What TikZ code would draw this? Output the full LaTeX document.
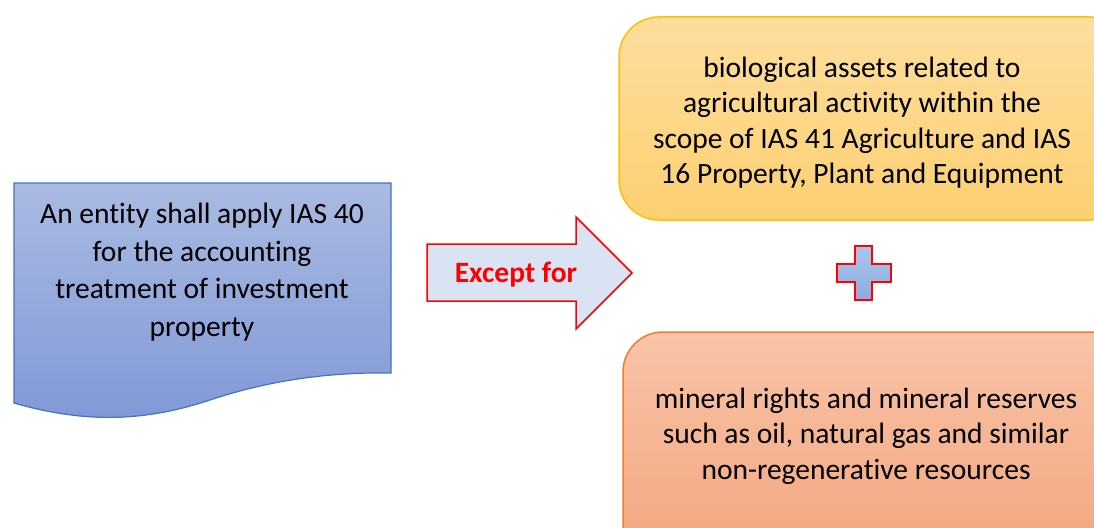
\documentclass[tikz,border=0pt]{standalone}
\usepackage{fontspec}
\setmainfont[RawFeature={-liga;-clig;-calt;-dlig}]{Carlito}
\definecolor{docTop}{HTML}{AABAE2}
\definecolor{docBot}{HTML}{7F98D6}
\definecolor{docLine}{HTML}{4472C4}
\definecolor{arrFill}{HTML}{DAE3F3}
\definecolor{redLine}{HTML}{FF0000}
\definecolor{yTop}{HTML}{FEDE9E}
\definecolor{yBot}{HTML}{FCD072}
\definecolor{yLine}{HTML}{FFC000}
\definecolor{oTop}{HTML}{F8C4A7}
\definecolor{oBot}{HTML}{F4A27C}
\definecolor{oLine}{HTML}{ED7D31}
\definecolor{pTop}{HTML}{AAC5EA}
\definecolor{pBot}{HTML}{8AADE0}
\tikzset{
  bodytext/.style={align=center, font=\fontsize{29.5}{37.5}\selectfont, text=black, inner sep=0pt},
  boxtext/.style={align=center, font=\fontsize{29.5}{35.5}\selectfont, text=black, inner sep=0pt},
  exctext/.style={font=\fontsize{29.5}{32}\selectfont\bfseries, text=redLine, inner sep=0pt}
}
\begin{document}
\begin{tikzpicture}[x=1pt,y=-1pt]
\useasboundingbox (0,0) rectangle (1094,527);
\clip (0,0) rectangle (1094,527);
% document shape
\shade[top color=docTop, bottom color=docBot]
  (14,183) -- (391,183) -- (391,373)
  .. controls (330,372) and (270,380) .. (210,400)
  .. controls (150,420) and (90,425) .. (14,403) -- cycle;
\draw[docLine, line width=1.2pt]
  (14,183) -- (391,183) -- (391,373)
  .. controls (330,372) and (270,380) .. (210,400)
  .. controls (150,420) and (90,425) .. (14,403) -- cycle;
\node[bodytext] (ent) at (202,272) {An entity shall apply IAS 40\\for the accounting\\treatment of investment\\property};
% arrow
\draw[redLine, fill=arrFill, line width=1.5pt, line join=miter]
  (427,244) -- (576,244) -- (576,217) -- (632,273) -- (576,329) -- (576,301) -- (427,301) -- cycle;
\node[exctext] (exc) at (516,275) {Except for};
% top box
\draw[yLine, line width=1.5pt, rounded corners=40pt, top color=yTop, bottom color=yBot]
  (619,17) rectangle (1130,220);
\node[boxtext] (bio) at (862,122.5) {biological assets related to\\agricultural activity within the\\scope of IAS 41 Agriculture and IAS\\16 Property, Plant and Equipment};
% plus
\draw[redLine, line width=2.5pt, top color=pTop, bottom color=pBot, line join=miter]
  (855,246) -- (872,246) -- (872,264) -- (891,264) -- (891,282) -- (872,282) -- (872,300)
  -- (855,300) -- (855,282) -- (837,282) -- (837,264) -- (855,264) -- cycle;
% bottom box
\draw[oLine, line width=1.5pt, rounded corners=40pt, top color=oTop, bottom color=oBot]
  (623,332) rectangle (1130,580);
\node[boxtext] (min) at (866,436) {mineral rights and mineral reserves\\such as oil, natural gas and similar\\non-regenerative resources};
\end{tikzpicture}
\end{document}
